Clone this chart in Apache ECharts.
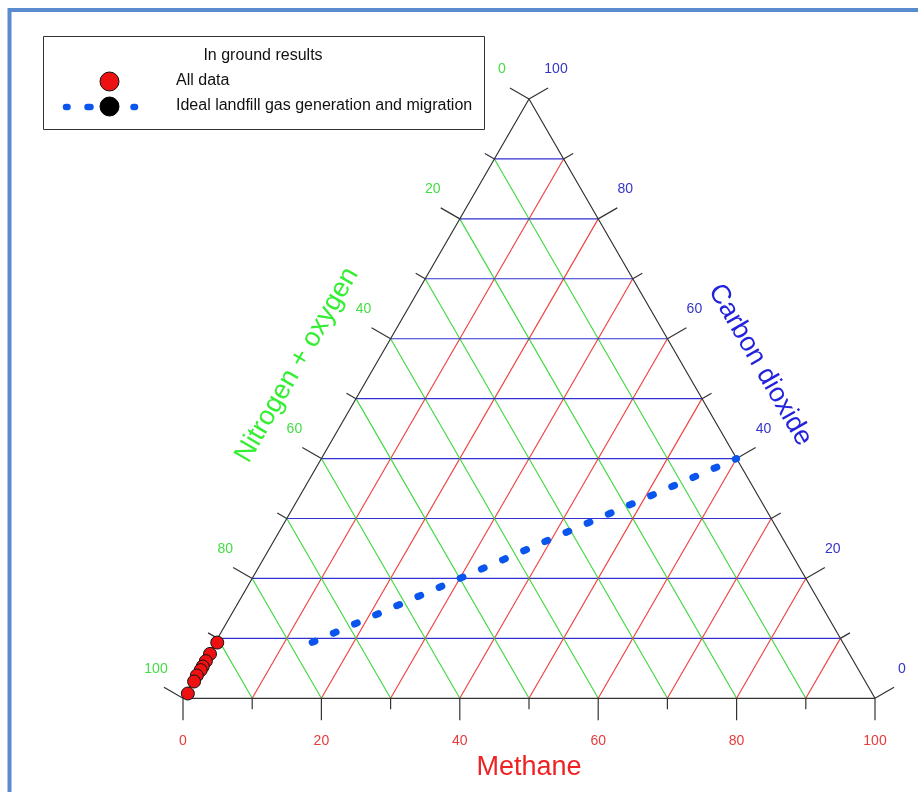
<!DOCTYPE html>
<html>
<head>
<meta charset="utf-8">
<script src="https://cdn.jsdelivr.net/npm/echarts@6/dist/echarts.min.js"></script>
<style>
html,body{margin:0;padding:0;background:#fff;}
#chart{width:918px;height:792px;}
</style>
</head>
<body>
<div id="chart"></div>
<script>
// ---- data ----
const gridValues = [10, 20, 30, 40, 50, 60, 70, 80, 90];
const tickValues = [0, 10, 20, 30, 40, 50, 60, 70, 80, 90, 100];
const labelValues = [0, 20, 40, 60, 80, 100];
const bottomLabels = ['0', '20', '40', '60', '80', '100'];     // Methane
const leftLabels = ['0', '20', '40', '60', '80', '100'];       // Nitrogen + oxygen
const rightLabels = ['0', '20', '40', '60', '80', '100'];      // Carbon dioxide
// In ground results (all data): methane %, carbon dioxide %
const allMethane = [0.3, 0.2, 0.2, 0.2, 0.2, 0.1, 0.2, 0.3];
const allCO2 = [9.3, 7.4, 6.2, 5.3, 4.7, 3.8, 2.8, 0.8];
// Ideal landfill gas generation and migration line
const idealMethane = [60, 13.85];
const idealCO2 = [40, 9.23];

const H = Math.sqrt(3) / 2;
function tern(ch4, co2) { return [ch4 + co2 / 2, co2 * H]; }

const RED = '#f04040', GREEN = '#40d840', BLUE = '#3030d0', EDGE = '#333333';
const FONT = 'Liberation Sans, Arial, sans-serif';

const chart = echarts.init(document.getElementById('chart'), null, {renderer: 'canvas'});

function gridRender(params, api) {
  const v = api.value(0);
  const seg = (a, b, color) => {
    const p1 = api.coord(a), p2 = api.coord(b);
    return {type: 'line', shape: {x1: p1[0], y1: p1[1], x2: p2[0], y2: p2[1]},
      style: {stroke: color, lineWidth: 1.15}};
  };
  return {type: 'group', children: [
    seg(tern(0, v), tern(100 - v, v), BLUE),          // constant CO2
    seg(tern(v, 0), tern(v, 100 - v), RED),           // constant methane
    seg(tern(0, 100 - v), tern(100 - v, 0), GREEN)    // constant N2+O2
  ]};
}

function tickRender(params, api) {
  const t = api.value(0);
  const len = (t % 20 === 0) ? 22 : 11;
  const mk = (pt, dx, dy) => {
    const p = api.coord(pt);
    return {type: 'line', shape: {x1: p[0], y1: p[1], x2: p[0] + dx * len, y2: p[1] + dy * len},
      style: {stroke: EDGE, lineWidth: 1.2}};
  };
  return {type: 'group', children: [
    mk(tern(t, 0), 0, 1),                 // bottom: methane
    mk(tern(0, 100 - t), -H, -0.5),       // left: nitrogen + oxygen = t
    mk(tern(100 - t, t), H, -0.5)         // right: carbon dioxide = t
  ]};
}

function labelRender(params, api) {
  const i = params.dataIndex;
  const t = api.value(0);
  const txt = (pt, dx, dy, s, color) => {
    const p = api.coord(pt);
    return {type: 'text', x: p[0] + dx, y: p[1] + dy,
      style: {text: s, fill: color, font: '14px ' + FONT, align: 'center', verticalAlign: 'middle',
        textAlign: 'center', textVerticalAlign: 'middle'}};
  };
  return {type: 'group', children: [
    txt(tern(t, 0), 0, 43, bottomLabels[i], '#e63c3c'),
    txt(tern(0, 100 - t), -27, -29.5, leftLabels[i], '#44dd44'),
    txt(tern(100 - t, t), 27, -29.5, rightLabels[i], '#3535c8')
  ]};
}

const option = {
  animation: false,
  backgroundColor: '#ffffff',
  grid: {left: 183, top: 99, width: 692, height: 599.3},
  xAxis: {type: 'value', min: 0, max: 100, show: false},
  yAxis: {type: 'value', min: 0, max: 100 * H, show: false},
  series: [
    {type: 'custom', name: 'grid', renderItem: gridRender, data: gridValues.map(v => [v]), z: 1, silent: true},
    {type: 'line', name: 'edges', data: [tern(0, 0), tern(100, 0), tern(0, 100), tern(0, 0)],
      symbol: 'none', lineStyle: {color: EDGE, width: 1.2}, z: 2, silent: true},
    {type: 'custom', name: 'ticks', renderItem: tickRender, data: tickValues.map(v => [v]), z: 2, silent: true},
    {type: 'custom', name: 'labels', renderItem: labelRender, data: labelValues.map(v => [v]), z: 2, silent: true},
    {type: 'line', name: 'Ideal landfill gas generation and migration',
      data: idealMethane.map((m, i) => tern(m, idealCO2[i])),
      symbol: 'none', z: 3,
      lineStyle: {color: '#0a55ee', width: 7, type: [1.5, 20.05, 1.5, 0], cap: 'round'}},
    {type: 'scatter', name: 'All data', data: allMethane.map((m, i) => tern(m, allCO2[i])),
      symbol: 'circle', symbolSize: 13, z: 4, clip: false,
      itemStyle: {color: '#ee1111', borderColor: '#111', borderWidth: 1, opacity: 1}}
  ],
  graphic: [
    // outer frame
    {type: 'rect', shape: {x: 9.5, y: 10, width: 1000, height: 1000},
      style: {fill: 'none', stroke: '#5b8bcf', lineWidth: 4}, z: 0},
    // legend box
    {type: 'rect', shape: {x: 43.5, y: 36.5, width: 441, height: 93},
      style: {fill: '#fff', stroke: '#333', lineWidth: 1}, z: 10},
    {type: 'text', x: 263, y: 56, style: {text: 'In ground results', font: '16px ' + FONT, fill: '#111',
      align: 'center', verticalAlign: 'middle', textAlign: 'center', textVerticalAlign: 'middle'}, z: 11},
    {type: 'circle', shape: {cx: 109.5, cy: 81.5, r: 9.5},
      style: {fill: '#ee1111', stroke: '#111', lineWidth: 1}, z: 11},
    {type: 'text', x: 176, y: 81, style: {text: 'All data', font: '16px ' + FONT, fill: '#111',
      align: 'left', verticalAlign: 'middle', textAlign: 'left', textVerticalAlign: 'middle'}, z: 11},
    {type: 'line', shape: {x1: 66, y1: 107, x2: 135, y2: 107},
      style: {stroke: '#0a55ee', lineWidth: 6.5, lineDash: [1.5, 20, 1.5, 0], lineCap: 'round'}, z: 11},
    {type: 'circle', shape: {cx: 109.5, cy: 106.5, r: 9.5},
      style: {fill: '#000', stroke: '#000', lineWidth: 1}, z: 12},
    {type: 'text', x: 176, y: 106, style: {text: 'Ideal landfill gas generation and migration', font: '16px ' + FONT, fill: '#111',
      align: 'left', verticalAlign: 'middle', textAlign: 'left', textVerticalAlign: 'middle'}, z: 11},
    // axis titles
    {type: 'text', x: 529, y: 768, style: {text: 'Methane', font: '27px ' + FONT, fill: '#ee2222',
      align: 'center', verticalAlign: 'middle', textAlign: 'center', textVerticalAlign: 'middle'}, z: 5},
    {type: 'text', x: 297, y: 365, rotation: Math.PI / 3, style: {text: 'Nitrogen + oxygen', font: '27px ' + FONT, fill: '#33ee33',
      align: 'center', verticalAlign: 'middle', textAlign: 'center', textVerticalAlign: 'middle'}, z: 5},
    {type: 'text', x: 760, y: 365, rotation: -Math.PI / 3, style: {text: 'Carbon dioxide', font: '27px ' + FONT, fill: '#2222dd',
      align: 'center', verticalAlign: 'middle', textAlign: 'center', textVerticalAlign: 'middle'}, z: 5}
  ]
};
chart.setOption(option);
</script>
</body>
</html>
